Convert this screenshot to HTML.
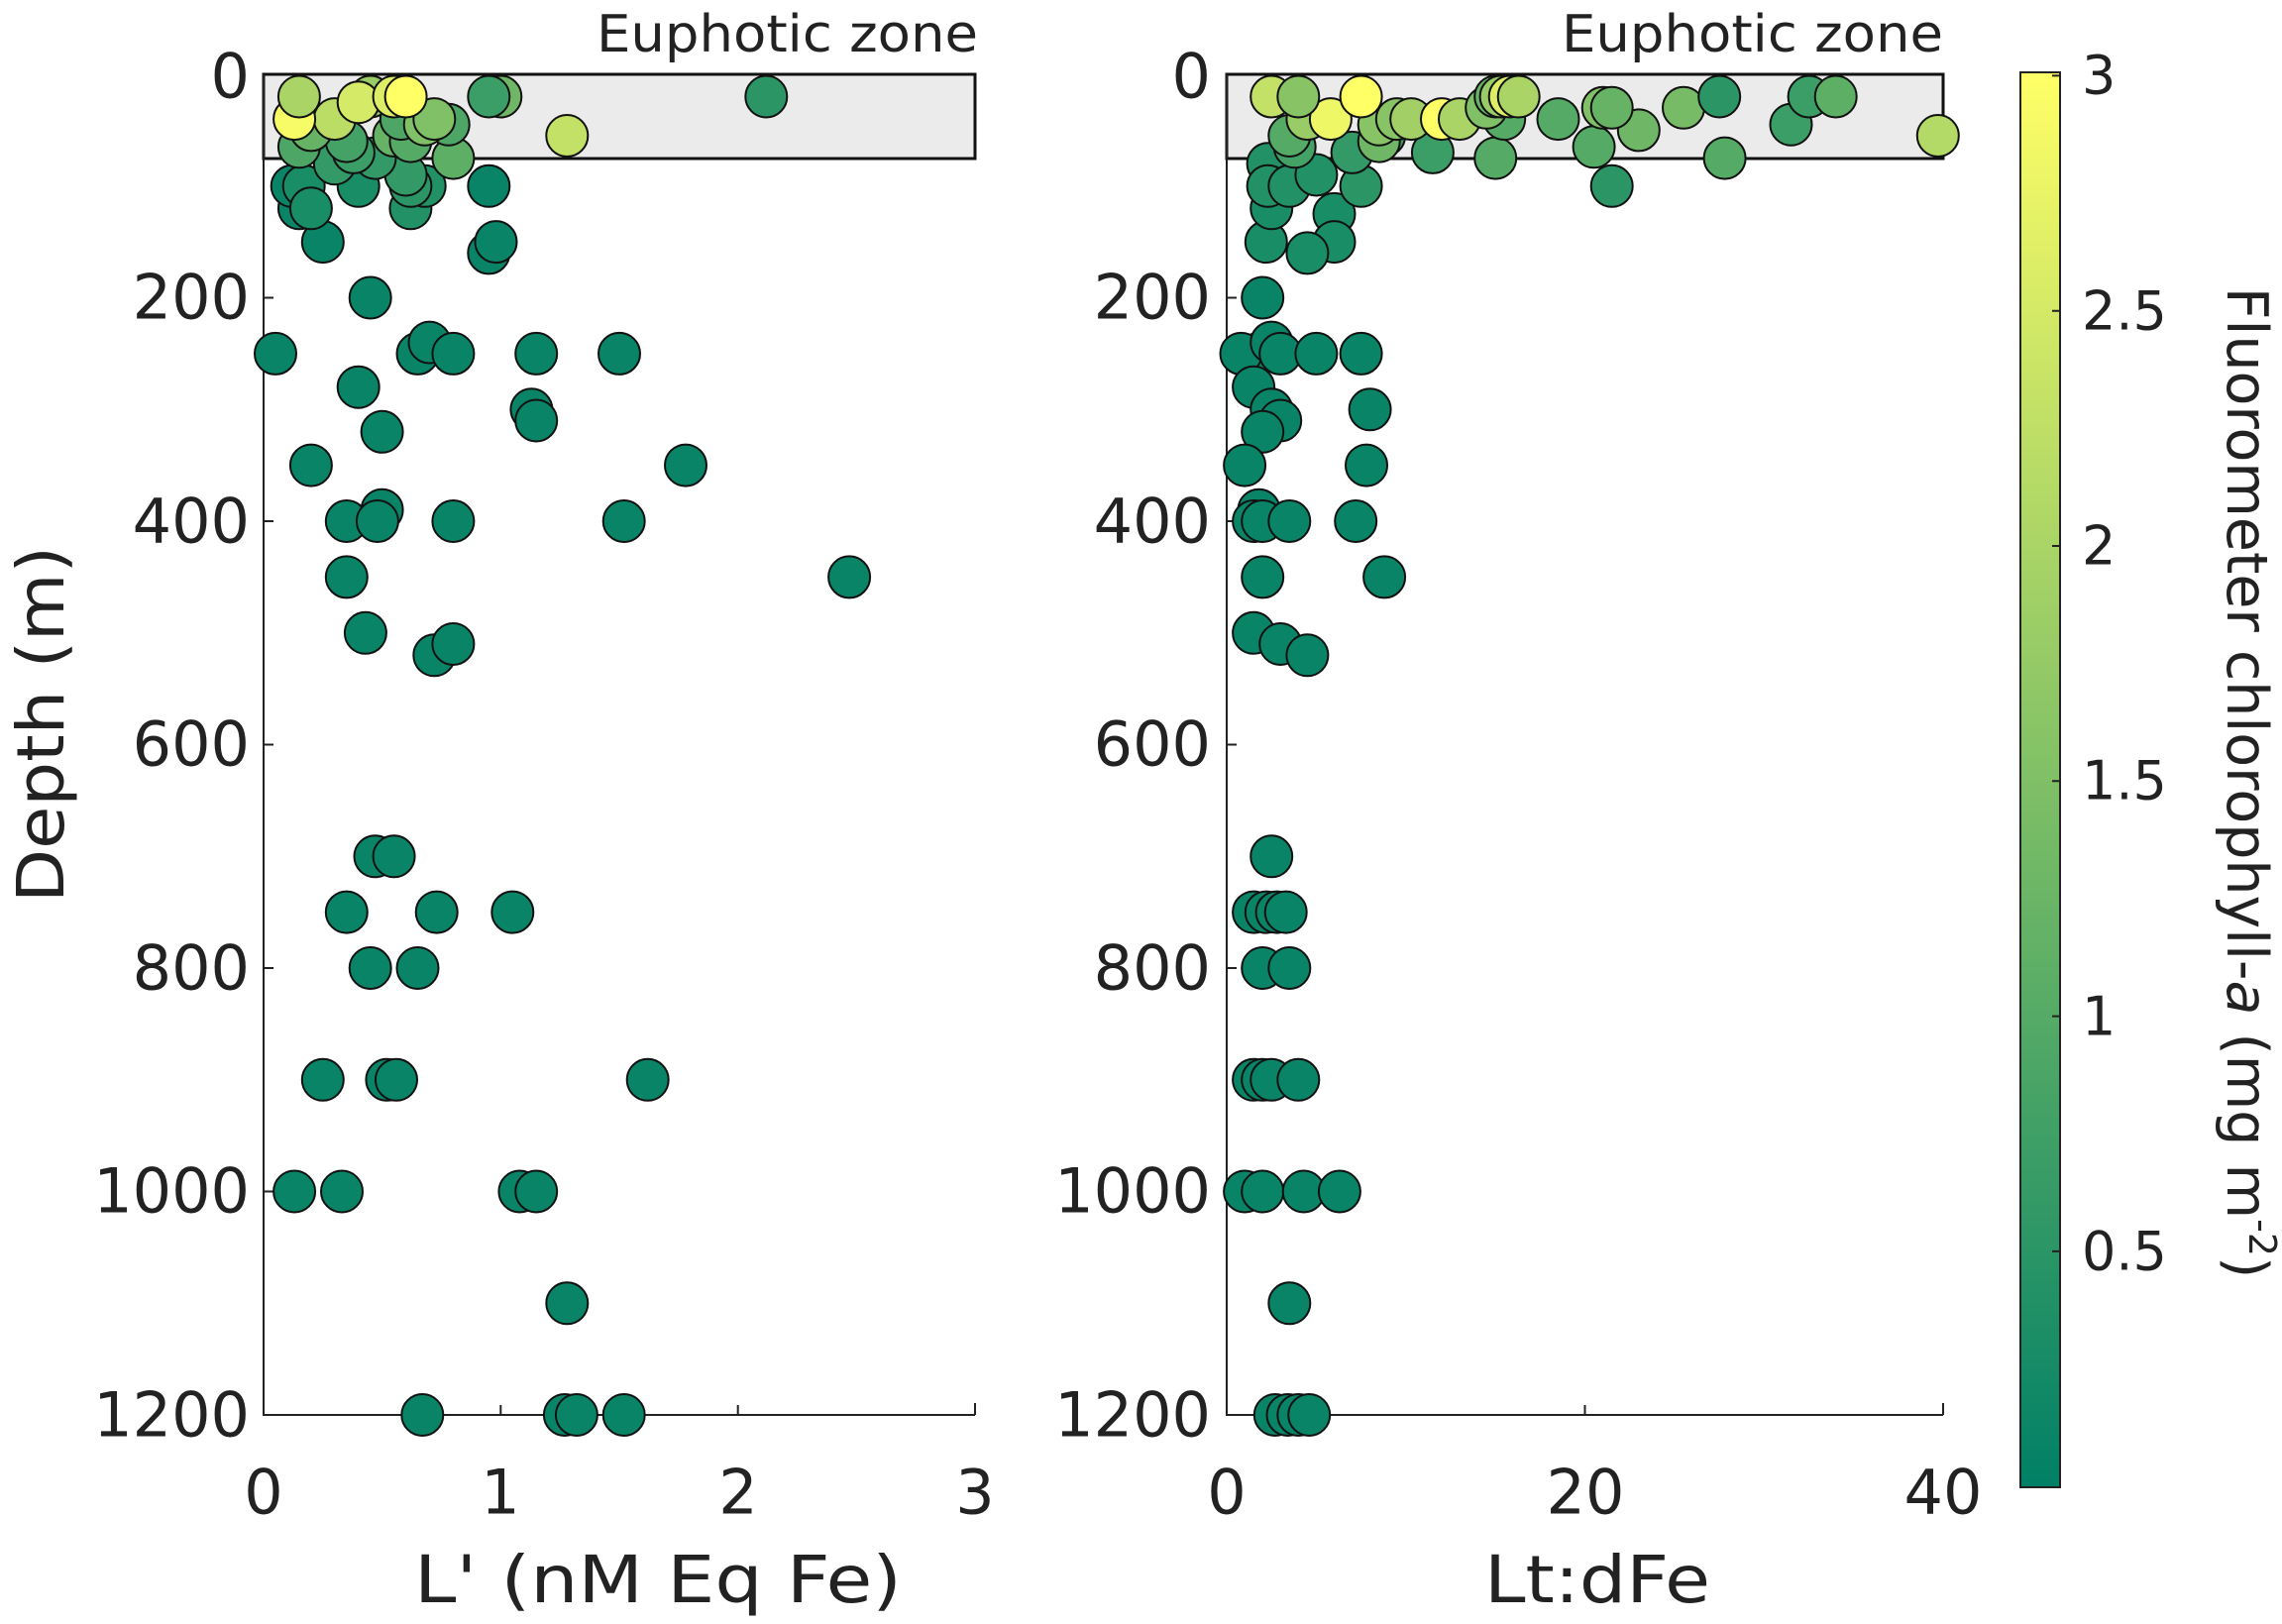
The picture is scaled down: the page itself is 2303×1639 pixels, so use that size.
<!DOCTYPE html>
<html><head><meta charset="utf-8"><style>
html,body{margin:0;padding:0;background:#fff}
svg{display:block}
text{font-family:"DejaVu Sans","Liberation Sans",sans-serif;fill:#222}
</style></head><body>
<svg id="s" width="2303" height="1639" viewBox="0 0 2303 1639" xmlns="http://www.w3.org/2000/svg">
<defs><linearGradient id="cb" x1="0" y1="1" x2="0" y2="0">
<stop offset="0" stop-color="rgb(0,128,102)"/><stop offset="1" stop-color="rgb(255,255,102)"/></linearGradient></defs>
<!-- left panel -->
<rect x="266" y="75" width="718" height="85" fill="#ebebeb" stroke="#111" stroke-width="3"/>
<g stroke="#222" stroke-width="2" fill="none">
<path d="M266 75 V1428 H984"/>
<path d="M266 300.5h10M266 526h10M266 751.5h10M266 977h10M266 1202.5h10"/>
<path d="M505.3 1428v-10M744.7 1428v-10M984 1428v-12"/>
</g>
<g font-size="62" text-anchor="end" dominant-baseline="central">
<text x="252" y="77">0</text><text x="252" y="300">200</text><text x="252" y="526">400</text><text x="252" y="751">600</text><text x="252" y="977">800</text><text x="252" y="1202">1000</text><text x="252" y="1428">1200</text>
</g>
<g font-size="62" text-anchor="middle" dominant-baseline="central">
<text x="266" y="1506">0</text><text x="505" y="1506">1</text><text x="745" y="1506">2</text><text x="984" y="1506">3</text>
</g>
<text x="602" y="52" font-size="52" textLength="385" lengthAdjust="spacingAndGlyphs">Euphotic zone</text>
<text x="418" y="1617" font-size="66" textLength="492" lengthAdjust="spacingAndGlyphs">L' (nM Eq Fe)</text>
<text transform="translate(64,911) rotate(-90)" font-size="66" textLength="360" lengthAdjust="spacingAndGlyphs">Depth (m)</text>
<!-- right panel -->
<rect x="1238" y="75" width="723" height="85" fill="#ebebeb" stroke="#111" stroke-width="3"/>
<g stroke="#222" stroke-width="2" fill="none">
<path d="M1238 75 V1428 H1961"/>
<path d="M1238 300.5h10M1238 526h10M1238 751.5h10M1238 977h10M1238 1202.5h10"/>
<path d="M1599.5 1428v-10M1961 1428v-12"/>
</g>
<g font-size="62" text-anchor="end" dominant-baseline="central">
<text x="1222" y="77">0</text><text x="1222" y="300">200</text><text x="1222" y="526">400</text><text x="1222" y="751">600</text><text x="1222" y="977">800</text><text x="1222" y="1202">1000</text><text x="1222" y="1428">1200</text>
</g>
<g font-size="62" text-anchor="middle" dominant-baseline="central">
<text x="1238" y="1506">0</text><text x="1600" y="1506">20</text><text x="1961" y="1506">40</text>
</g>
<text x="1576" y="52" font-size="52" textLength="385" lengthAdjust="spacingAndGlyphs">Euphotic zone</text>
<text x="1498" y="1617" font-size="66" textLength="228" lengthAdjust="spacingAndGlyphs">Lt:dFe</text>
<!-- colorbar -->
<rect x="2039" y="73" width="40" height="1428" fill="url(#cb)" stroke="#222" stroke-width="2"/>
<g stroke="#222" stroke-width="2">
<path d="M2079 76.4h-8M2079 313.7h-8M2079 551h-8M2079 788.3h-8M2079 1025.6h-8M2079 1262.9h-8"/>
</g>
<g font-size="54" dominant-baseline="central">
<text x="2101" y="76">3</text><text x="2101" y="314">2.5</text><text x="2101" y="551">2</text><text x="2101" y="788">1.5</text><text x="2101" y="1026">1</text><text x="2101" y="1263">0.5</text>
</g>
<text transform="translate(2248,790) rotate(90)" font-size="57" text-anchor="middle">Fluorometer chlorophyll-<tspan font-style="italic">a</tspan> (mg m<tspan font-size="38" dy="-22">-2</tspan><tspan dy="22">)</tspan></text>
<g id="pts" stroke="#111" stroke-width="2"></g>
</svg>
<script>
var L=[[0.05,250],[0.2,350],[0.25,150],[0.15,120],[0.12,100],[0.45,200],[0.4,280],[0.5,320],[0.35,400],[0.5,390],[0.48,400],[0.35,450],[0.43,500],[0.65,250],[0.7,240],[0.8,250],[0.72,520],[0.8,510],[0.8,400],[0.95,160],[0.98,150],[0.95,100],[1.15,250],[1.13,300],[1.15,310],[1.5,250],[1.78,350],[1.52,400],[2.47,450],[0.47,700],[0.55,700],[0.35,750],[0.73,750],[1.05,750],[0.45,800],[0.65,800],[0.25,900],[0.52,900],[0.56,900],[1.62,900],[0.13,1000],[0.33,1000],[1.08,1000],[1.15,1000],[1.28,1100],[0.67,1200],[1.27,1200],[1.32,1200],[1.52,1200],
[0.4,100,0.3],[0.17,100,0.3],[0.2,120,0.3],[0.62,120,0.4],[0.68,100,0.4],[0.62,100,0.5],[0.6,90,0.6],[0.3,80,0.6],[0.47,75,0.6],[0.38,70,0.7],[0.15,65,0.9],[0.8,75,1.1],[0.35,60,0.8],[0.2,50,1.2],[0.55,55,1.2],[0.62,60,1.0],[0.78,45,0.9],[0.58,40,0.9],[0.68,45,1.5],[0.72,40,1.5],[0.3,40,2.2],[0.13,40,2.9],[0.15,20,2.0],[0.45,20,1.8],[0.4,25,2.5],[0.55,20,2.6],[1.0,20,1.3],[0.95,20,0.7],[2.12,20,0.5],[1.28,55,2.3],[0.6,20,3.0]];
var R=[[1.8,250],[0.8,250],[2,200],[2.5,240],[3,250],[5,250],[7.5,250],[1.5,280],[2.5,300],[3,310],[2,320],[8,300],[7.8,350],[1,350],[1.8,390],[1.5,400],[2,400],[3.5,400],[7.2,400],[8.8,450],[2,450],[1.5,500],[3,510],[4.5,520],[2.5,700],[1.5,750],[2.2,750],[2.8,750],[3.3,750],[2,800],[3.5,800],[1.5,900],[2,900],[2.5,900],[4,900],[1,1000],[2,1000],[4.3,1000],[6.3,1000],[3.5,1100],[2.7,1200],[3.4,1200],[4,1200],[4.6,1200],
[2.2,150,0.3],[6,125,0.3],[6,150,0.3],[4.5,160,0.3],[2.5,120,0.3],[2.3,80,0.4],[2.3,100,0.4],[3.5,100,0.4],[5,90,0.4],[7.5,100,0.5],[21.5,100,0.5],[7,70,0.6],[11.5,70,0.7],[8.8,55,0.7],[3.8,65,0.8],[3.5,55,1.0],[15,75,1.0],[27.8,75,1.0],[20.5,65,1.0],[31.5,45,0.7],[15.5,40,1.0],[18.5,40,1.0],[8.5,60,1.3],[23,50,1.3],[8.5,45,1.6],[9.5,40,1.6],[10.3,40,1.9],[4.5,40,1.8],[5.8,40,2.8],[12,40,3.0],[13,40,2.0],[14.5,30,1.5],[21,30,1.5],[21.5,30,1.2],[25.5,30,1.4],[15,20,1.2],[15.3,20,1.8],[15.8,20,2.6],[16.3,20,2.0],[2.5,20,2.3],[4,20,1.6],[7.5,20,3.0],[27.5,20,0.5],[32.5,20,0.7],[34,20,1.1],[39.7,55,2.1]];
function col(c){var t=Math.max(0,Math.min(1,c/3));return'rgb('+Math.round(255*t)+','+Math.round(128+127*t)+',102)';}
var g=document.getElementById('pts'),h='';
function add(arr,x0,sx){arr.forEach(function(p){var c=p.length>2?p[2]:0.1;h+='<circle cx="'+(x0+p[0]*sx).toFixed(1)+'" cy="'+(75+p[1]*1.1275).toFixed(1)+'" r="21" fill="'+col(c)+'"/>';});}
add(L,266,239.3);add(R,1238,18.08);
g.innerHTML=h;
</script>
</body></html>
